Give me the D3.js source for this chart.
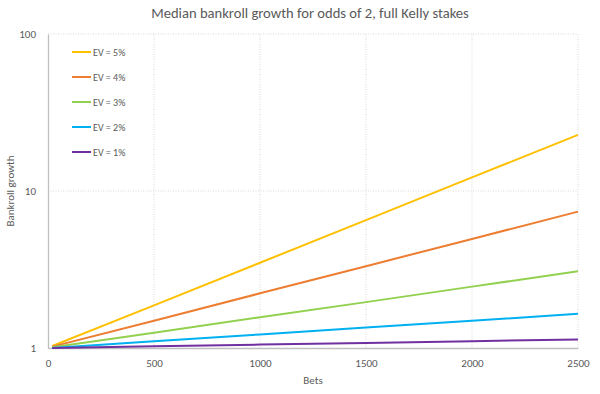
<!DOCTYPE html>
<html><head><meta charset="utf-8">
<script src="https://cdn.jsdelivr.net/npm/d3@7"></script>
<style>body{margin:0;background:#fff}svg{display:block}text{font-family:Carlito,"Liberation Sans",Arial,sans-serif}</style>
</head><body>
<svg id="c" width="600" height="394"></svg>
<script>
const bets = [20, 500, 1000, 1500, 2000, 2500];
const seriesNames = ["EV = 5%", "EV = 4%", "EV = 3%", "EV = 2%", "EV = 1%"];
const ev5 = [1.03, 1.87, 3.49, 6.53, 12.2, 22.8];
const ev4 = [1.02, 1.49, 2.23, 3.32, 4.95, 7.39];
const ev3 = [1.01, 1.25, 1.57, 1.96, 2.46, 3.08];
const ev2 = [1.00, 1.105, 1.22, 1.35, 1.49, 1.65];
const ev1 = [1.00, 1.025, 1.051, 1.078, 1.105, 1.133];
const xTicks = [0, 500, 1000, 1500, 2000, 2500];
const yTicks = [1, 10, 100];
const colors = ["#FFC000", "#ED7D31", "#92D050", "#00B0F0", "#7030A0"];
const seriesVals = [ev5, ev4, ev3, ev2, ev1];

const svg = d3.select("#c");
const L = 48, R = 578, T = 34, B = 348;
const x = d3.scaleLinear().domain([0, 2500]).range([L, R]);
const y = d3.scaleLog().domain([1, 100]).range([B, T]);
const grey = "#595959";

// gridlines
svg.append("g").selectAll("line").data(xTicks.slice(1)).join("line")
  .attr("x1", d => x(d)).attr("x2", d => x(d)).attr("y1", T).attr("y2", B)
  .attr("stroke", "#d9d9d9").attr("stroke-dasharray", "1,1.5").attr("stroke-width", 1);
svg.append("g").selectAll("line").data(yTicks.slice(1)).join("line")
  .attr("x1", L).attr("x2", R).attr("y1", d => y(d)).attr("y2", d => y(d))
  .attr("stroke", "#d9d9d9").attr("stroke-dasharray", "1,1.5").attr("stroke-width", 1);

// axes
const xAxis = svg.append("g").attr("transform", `translate(0,${B})`)
  .call(d3.axisBottom(x).tickValues(xTicks).tickSize(0).tickPadding(11).tickFormat(d3.format("d")));
xAxis.select(".domain").attr("stroke", "#bfbfbf").attr("stroke-width", 1.3);
xAxis.selectAll("text").attr("fill", grey).style("font-size", "11px");
const yAxis = svg.append("g").attr("transform", `translate(${L},0)`)
  .call(d3.axisLeft(y).tickValues(yTicks).tickSize(0).tickPadding(12).tickFormat(d3.format("d")));
yAxis.select(".domain").attr("stroke", "#bfbfbf").attr("stroke-width", 1.3);
yAxis.selectAll("text").attr("fill", grey).style("font-size", "11px");

// lines
const line = d3.line().x((d, i) => x(bets[i])).y(d => y(d));
seriesVals.forEach((vals, k) => {
  svg.append("path").datum(vals).attr("d", line).attr("fill", "none")
    .attr("stroke", colors[k]).attr("stroke-width", 2);
});

// legend
const lg = svg.append("g");
seriesNames.forEach((n, k) => {
  const yy = 52 + k * 25;
  lg.append("line").attr("x1", 72).attr("x2", 91).attr("y1", yy).attr("y2", yy)
    .attr("stroke", colors[k]).attr("stroke-width", 2);
  lg.append("text").attr("x", 93).attr("y", yy + 3.5).attr("fill", grey)
    .style("font-size", "10px").text(n);
});

// title & axis labels
svg.append("text").attr("x", 310).attr("y", 18).attr("text-anchor", "middle")
  .attr("fill", grey).style("font-size", "14.6px").style("font-weight", 300)
  .text("Median bankroll growth for odds of 2, full Kelly stakes");
svg.append("text").attr("x", 313).attr("y", 384).attr("text-anchor", "middle")
  .attr("fill", grey).style("font-size", "11px").text("Bets");
svg.append("text").attr("transform", "translate(14,191) rotate(-90)").attr("text-anchor", "middle")
  .attr("fill", grey).style("font-size", "11px").text("Bankroll growth");
</script>
</body></html>
